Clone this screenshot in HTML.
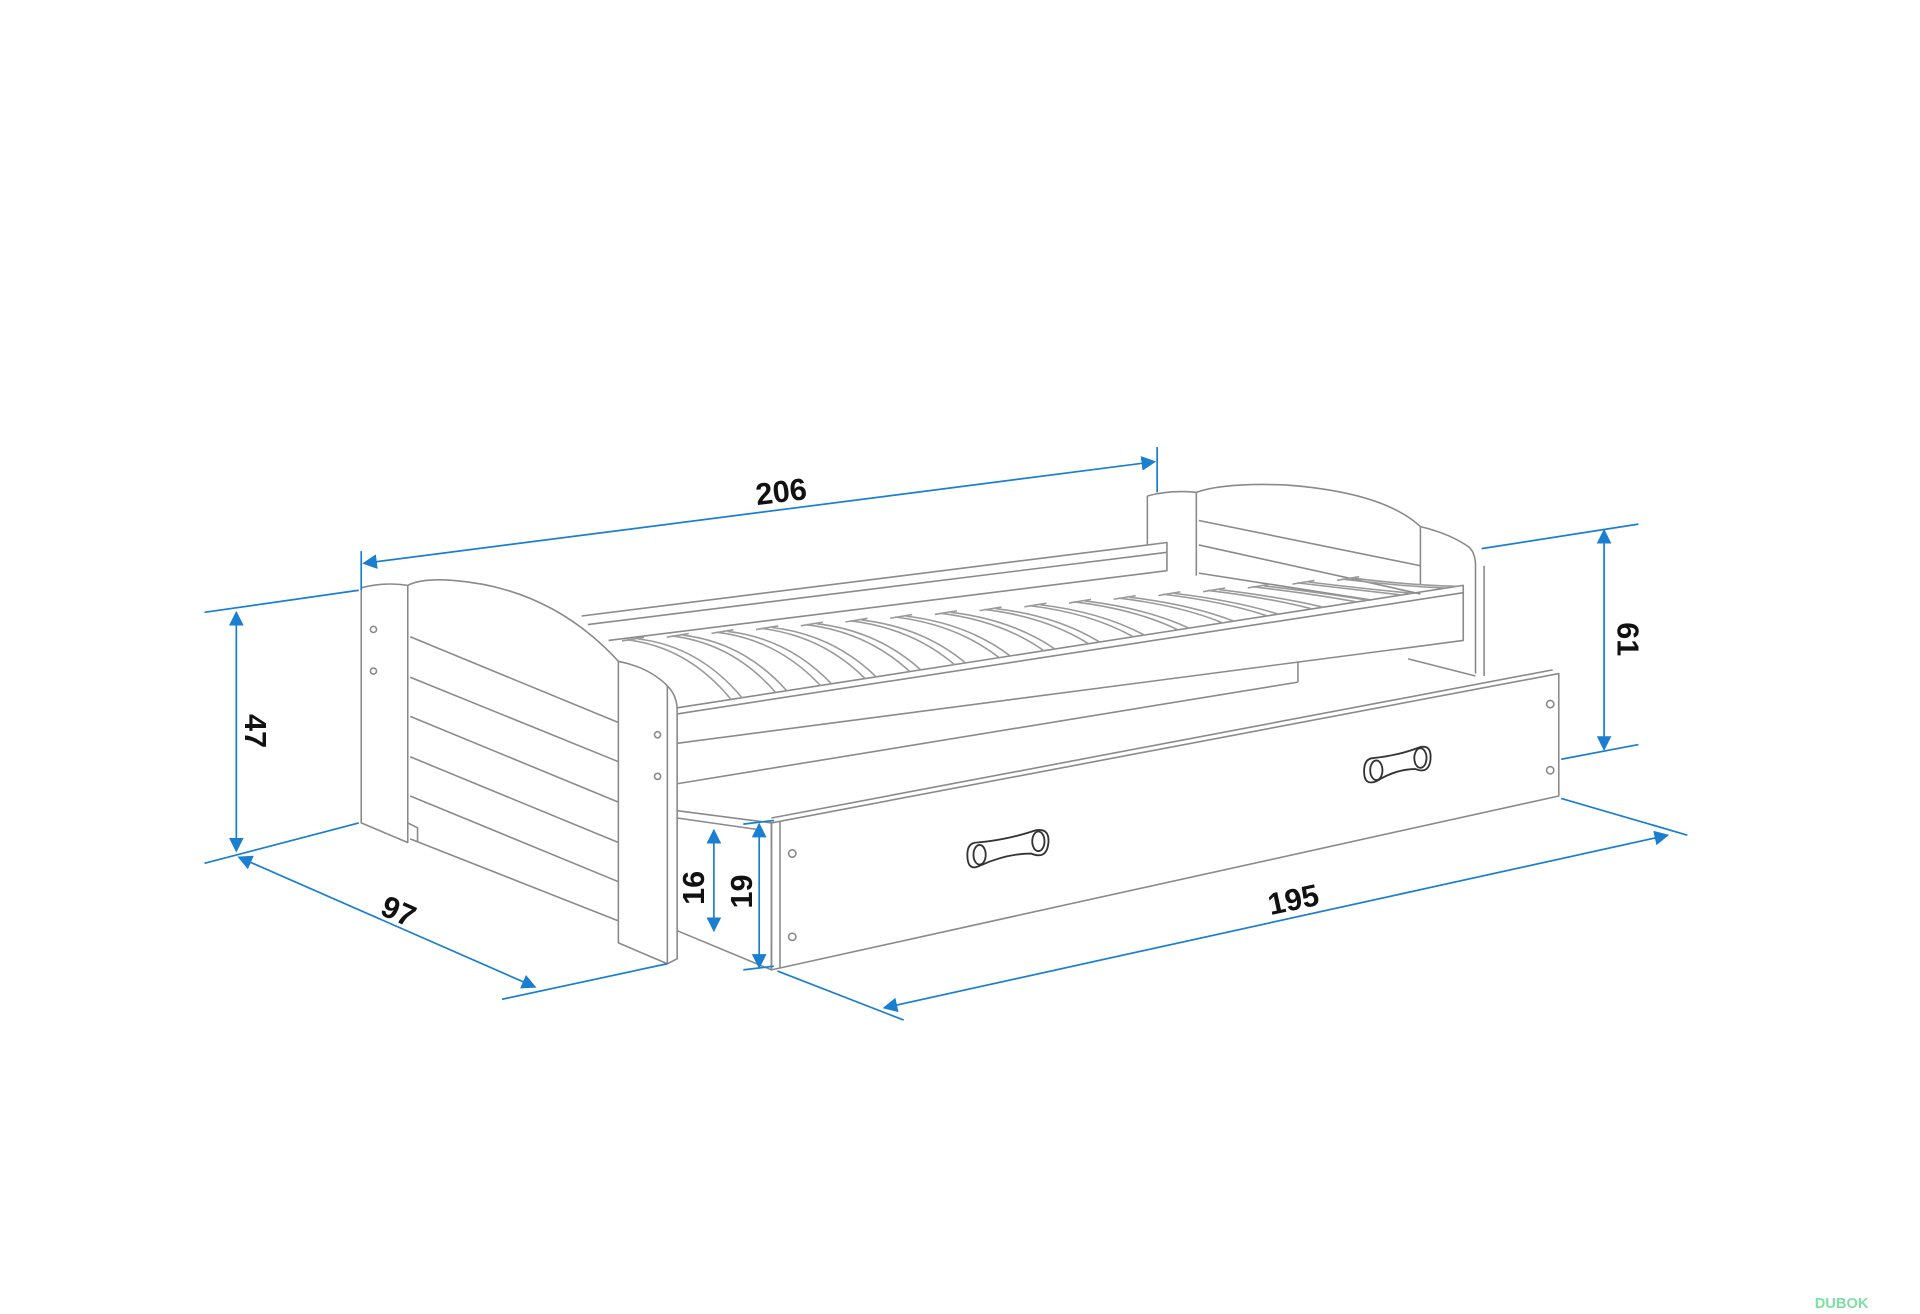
<!DOCTYPE html>
<html><head><meta charset="utf-8"><style>
html,body{margin:0;padding:0;background:#fff;}
svg{display:block;}
text{font-family:"Liberation Sans",sans-serif;font-weight:bold;fill:#111;}
</style></head><body>
<svg id="s" width="1920" height="1314" viewBox="0 0 1568 1073" xmlns="http://www.w3.org/2000/svg">
<defs>
<marker id="b" viewBox="0 0 10 10" refX="9" refY="5" markerWidth="12" markerHeight="12" orient="auto-start-reverse" markerUnits="userSpaceOnUse"><path d="M0,0 L10,5 L0,10 z" fill="#1a7fd0"/></marker>
</defs>
<g fill="none" stroke="#8a8a8a" stroke-width="1.3" stroke-linejoin="round">
<path d="M295,480 L295,672 L333,688 L333,478 Q315,475 295,480 Z"/>
<path d="M333,672 L341,676 L341,688"/>
<circle cx="305" cy="514" r="2.5"/><circle cx="305" cy="548" r="2.5"/>
<path d="M333,478 Q345,472 370,474 Q450,480 505,540"/>
<path d="M335,520 L505,590 M335,553 L505,622 M335,585 L505,655 M335,618 L505,688 M335,650 L505,720 M335,685 L505,752"/>
<path d="M505,540 Q530,545 545,560 Q553,568 553,580 L553,783 L545,787 L505,770 Z"/>
<path d="M545,560 L545,787"/>
<circle cx="537" cy="600" r="2.5"/><circle cx="537" cy="634" r="2.5"/>
<path d="M475,503 L953,443 L953,466 L497,523"/>
<path d="M480,510 L953,451"/>
<path d="M553,578 L1195,478 L1195,523 L553,607"/>
<path d="M553,583 L1195,484"/>
<path d="M553,640 L1060,557"/>
<path d="M1060,540 L1060,557"/>
<path d="M937,405 Q955,400 977,402 L977,470"/>
<path d="M937,405 L937,445"/>
<path d="M977,402 Q1000,394 1050,396 Q1130,402 1160,430"/>
<path d="M979,425 L1160,462 M979,445 L1160,485 M979,468 L1120,490"/>
<path d="M1160,430 L1160,478"/>
<path d="M1160,430 Q1185,436 1200,447 Q1205,452 1205,462 L1205,550"/>
<path d="M1212,462 L1212,552"/>
<path d="M1150,538 L1205,552"/>
<path d="M553,662 L630,672 L630,792 L553,760"/>
<path d="M553,668 L623,678"/>
<path d="M630,672 L1273,550 L1273,650 L630,792 Z"/>
<path d="M637,671 L637,790"/>
<path d="M630,668 L1268,547"/>
<circle cx="647" cy="697" r="3"/><circle cx="647" cy="765" r="3"/>
<circle cx="1266" cy="575" r="3"/><circle cx="1266" cy="629" r="3"/>
<g stroke="#333" stroke-width="1.5">
<path d="M798,688 Q822,686 846,678 Q858,676 856,690 Q854,702 842,697 Q822,697 800,707 Q790,712 790,698 Q790,688 798,688 Z"/>
<ellipse cx="800" cy="698" rx="5" ry="8"/><ellipse cx="848" cy="687" rx="5" ry="8"/>
<path d="M1122,619 Q1142,617 1160,610 Q1170,608 1168,622 Q1166,632 1156,628 Q1140,628 1124,638 Q1114,642 1114,630 Q1114,619 1122,619 Z"/>
<ellipse cx="1124" cy="629" rx="5" ry="8"/><ellipse cx="1160" cy="619" rx="5" ry="8"/>
</g>
<g id="slats" stroke="#9a9a9a"></g>
</g>
<g stroke="#1a7fd0" stroke-width="1.4" fill="none">
<path d="M295,450 L295,482 M945,365 L945,402"/>
<path d="M297,460 L943,377" marker-start="url(#b)" marker-end="url(#b)"/>
<path d="M167,500 L293,482 M167,705 L293,672"/>
<path d="M193,500 L193,695" marker-start="url(#b)" marker-end="url(#b)"/>
<path d="M410,816 L545,787"/>
<path d="M195,700 L437,806" marker-start="url(#b)" marker-end="url(#b)"/>
<path d="M1210,448 L1338,428 M1275,620 L1338,608"/>
<path d="M1310,433 L1310,612" marker-start="url(#b)" marker-end="url(#b)"/>
<path d="M635,793 L738,833 M1275,652 L1378,682"/>
<path d="M722,823 L1362,682" marker-start="url(#b)" marker-end="url(#b)"/>
<path d="M583,678 L583,760" marker-start="url(#b)" marker-end="url(#b)"/>
<path d="M607,673 L632,670 M607,792 L632,789"/>
<path d="M620,673 L620,790" marker-start="url(#b)" marker-end="url(#b)"/>
</g>
<g font-size="25">
<text x="638" y="410" text-anchor="middle" transform="rotate(-7 638 402)">206</text>
<text x="0" y="0" text-anchor="middle" transform="translate(200,597) rotate(90)">47</text>
<text x="0" y="0" text-anchor="middle" transform="translate(322,752) rotate(24)">97</text>
<text x="0" y="0" text-anchor="middle" transform="translate(1321,522) rotate(90)">61</text>
<text x="0" y="0" text-anchor="middle" transform="translate(1058,743) rotate(-12)">195</text>
<text x="0" y="0" text-anchor="middle" transform="translate(575,725) rotate(-90)">16</text>
<text x="0" y="0" text-anchor="middle" transform="translate(614,728) rotate(-90)">19</text>
</g>
<text x="1482" y="1068" font-size="12" style="fill:#7ee0a0">DUBOK</text>
</svg>
<script>
var g=document.getElementById('slats'),h='';
function backY(x){return 523-(x-505)*53/625;}
function frontY(x){return 578-(x-553)*100/642;}
for(var i=0;i<17;i++){
 var bx=512+36.5*i, by=backY(bx);
 var fx=bx+85; if(fx>1190)fx=1190;
 var fy=frontY(fx);
 var cx=bx+50, cy=by+6;
 for(var k=0;k<2;k++){
  var o=k*9;
  h+='<path d="M'+(bx+o)+','+(by-o*0.08)+' Q'+(cx+o)+','+(cy-o*0.08)+' '+(Math.min(fx+o,1192))+','+frontY(Math.min(fx+o,1192))+'"/>';
 }
 h+='<path d="M'+(bx-4)+','+(by+1)+' L'+(bx+14)+','+(by-2)+'"/>';
}
g.innerHTML=h;
</script>
</body></html>
